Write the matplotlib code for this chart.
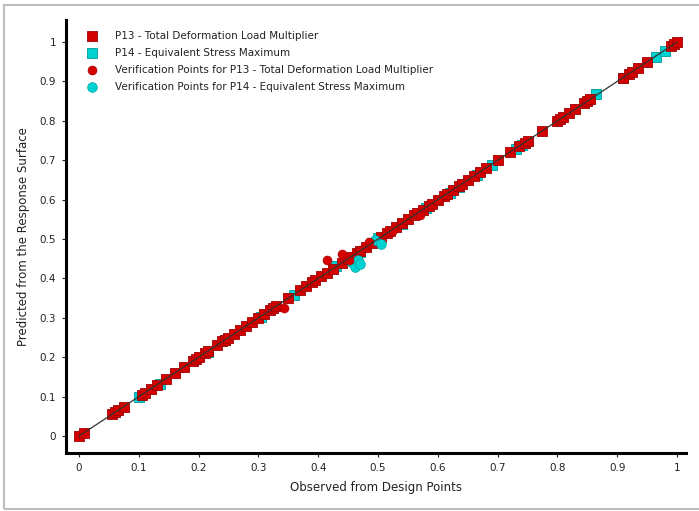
import matplotlib
matplotlib.use("Agg")
import matplotlib.pyplot as plt
from matplotlib.patches import Rectangle

# design points, P13 (observed, predicted)
p13_obs = [0.0, 0.008, 0.055, 0.060, 0.065, 0.075, 0.105, 0.110, 0.120, 0.130, 0.145,
           0.160, 0.175, 0.190, 0.195, 0.200, 0.210, 0.215, 0.230, 0.240, 0.245, 0.250,
           0.260, 0.270, 0.280, 0.290, 0.300, 0.310, 0.320, 0.325, 0.330, 0.350, 0.370,
           0.380, 0.390, 0.395, 0.405, 0.415, 0.425, 0.440, 0.450, 0.455, 0.465, 0.470,
           0.480, 0.490, 0.505, 0.515, 0.520, 0.530, 0.540, 0.550, 0.560, 0.565, 0.575,
           0.585, 0.590, 0.600, 0.610, 0.615, 0.625, 0.635, 0.640, 0.650, 0.660, 0.670,
           0.680, 0.700, 0.720, 0.735, 0.745, 0.750, 0.775, 0.800, 0.805, 0.810, 0.820,
           0.830, 0.845, 0.850, 0.855, 0.910, 0.920, 0.925, 0.935, 0.950, 0.990, 0.995, 1.0]
p13_pred = [0.0, 0.008, 0.055, 0.060, 0.065, 0.075, 0.105, 0.110, 0.120, 0.130, 0.145,
            0.160, 0.175, 0.190, 0.195, 0.200, 0.210, 0.215, 0.230, 0.240, 0.245, 0.250,
            0.260, 0.270, 0.280, 0.290, 0.300, 0.310, 0.320, 0.325, 0.330, 0.350, 0.370,
            0.380, 0.390, 0.395, 0.405, 0.415, 0.425, 0.440, 0.450, 0.455, 0.465, 0.470,
            0.480, 0.490, 0.505, 0.515, 0.520, 0.530, 0.540, 0.550, 0.560, 0.565, 0.575,
            0.585, 0.590, 0.600, 0.610, 0.615, 0.625, 0.635, 0.640, 0.650, 0.660, 0.670,
            0.680, 0.700, 0.720, 0.735, 0.745, 0.750, 0.775, 0.800, 0.805, 0.810, 0.820,
            0.830, 0.845, 0.850, 0.855, 0.910, 0.920, 0.925, 0.935, 0.950, 0.990, 0.995, 1.0]

# design points, P14
p14_obs = [0.100, 0.135, 0.215, 0.245, 0.305, 0.360, 0.430, 0.455, 0.470, 0.500, 0.540,
           0.580, 0.620, 0.635, 0.665, 0.690, 0.730, 0.740, 0.865, 0.910, 0.965, 0.980]
p14_pred = [0.100, 0.133, 0.213, 0.243, 0.303, 0.358, 0.432, 0.452, 0.468, 0.502, 0.538,
            0.578, 0.618, 0.633, 0.663, 0.688, 0.728, 0.738, 0.867, 0.908, 0.963, 0.978]

# verification points
v13_obs = [0.343, 0.415, 0.440, 0.452, 0.470, 0.485, 0.525, 0.570, 0.600]
v13_pred = [0.325, 0.447, 0.462, 0.447, 0.472, 0.492, 0.522, 0.562, 0.600]
v14_obs = [0.455, 0.462, 0.467, 0.470, 0.495, 0.505]
v14_pred = [0.442, 0.430, 0.447, 0.437, 0.498, 0.488]

red = "#d40000"
red_edge = "#a00000"
cyan = "#00d2d2"
cyan_edge = "#009a9a"

fig = plt.figure(figsize=(6.99, 5.11), dpi=100)
ax = fig.add_axes([0.0944, 0.1135, 0.887, 0.8474])

ax.plot([0, 1], [0, 1], color="#333333", lw=0.9, zorder=5)
ax.scatter(p14_obs, p14_pred, marker="s", s=46, c=cyan, edgecolors=cyan_edge, lw=0.6,
           zorder=2, label="P14 - Equivalent Stress Maximum")
ax.scatter(p13_obs, p13_pred, marker="s", s=46, c=red, edgecolors=red_edge, lw=0.6,
           zorder=3, label="P13 - Total Deformation Load Multiplier")
ax.scatter(v14_obs, v14_pred, marker="o", s=50, c=cyan, edgecolors=cyan_edge, lw=0.4,
           zorder=4, label="Verification Points for P14 - Equivalent Stress Maximum")
ax.scatter(v13_obs, v13_pred, marker="o", s=42, c=red, edgecolors=red_edge, lw=0.4,
           zorder=4, label="Verification Points for P13 - Total Deformation Load Multiplier")

ax.set_xlim(-0.0217, 1.015)
ax.set_ylim(-0.043, 1.056)
ticks = [0, 0.1, 0.2, 0.3, 0.4, 0.5, 0.6, 0.7, 0.8, 0.9, 1]
tick_labels = ["0", "0.1", "0.2", "0.3", "0.4", "0.5", "0.6", "0.7", "0.8", "0.9", "1"]
ax.set_xticks(ticks, tick_labels)
ax.set_yticks(ticks, tick_labels)
ax.tick_params(labelsize=7.5, length=3, width=0.8, colors="#222222", pad=4)

for side in ["top", "right"]:
    ax.spines[side].set_visible(False)
for side in ["left", "bottom"]:
    ax.spines[side].set_linewidth(2.2)

ax.set_xlabel("Observed from Design Points", fontsize=8.5, color="#222222", labelpad=6)
ax.set_ylabel("Predicted from the Response Surface", fontsize=8.5, color="#222222", labelpad=7)

handles, labels = ax.get_legend_handles_labels()
order = [1, 0, 3, 2]
leg = ax.legend([handles[i] for i in order], [labels[i] for i in order], loc="upper left",
                bbox_to_anchor=(0.015, 0.99), frameon=False, fontsize=7.5, handletextpad=1.2,
                labelspacing=0.68, borderaxespad=0.2)
for t in leg.get_texts():
    t.set_color("#222222")

# grey frame round the figure, open on the right
fig.patches.append(Rectangle((4 / 699, 2 / 511), 1.05, 1 - 7 / 511, transform=fig.transFigure,
                             fill=False, edgecolor="#bdbdbd", lw=1.5))

fig.savefig("out.png", dpi=100)
